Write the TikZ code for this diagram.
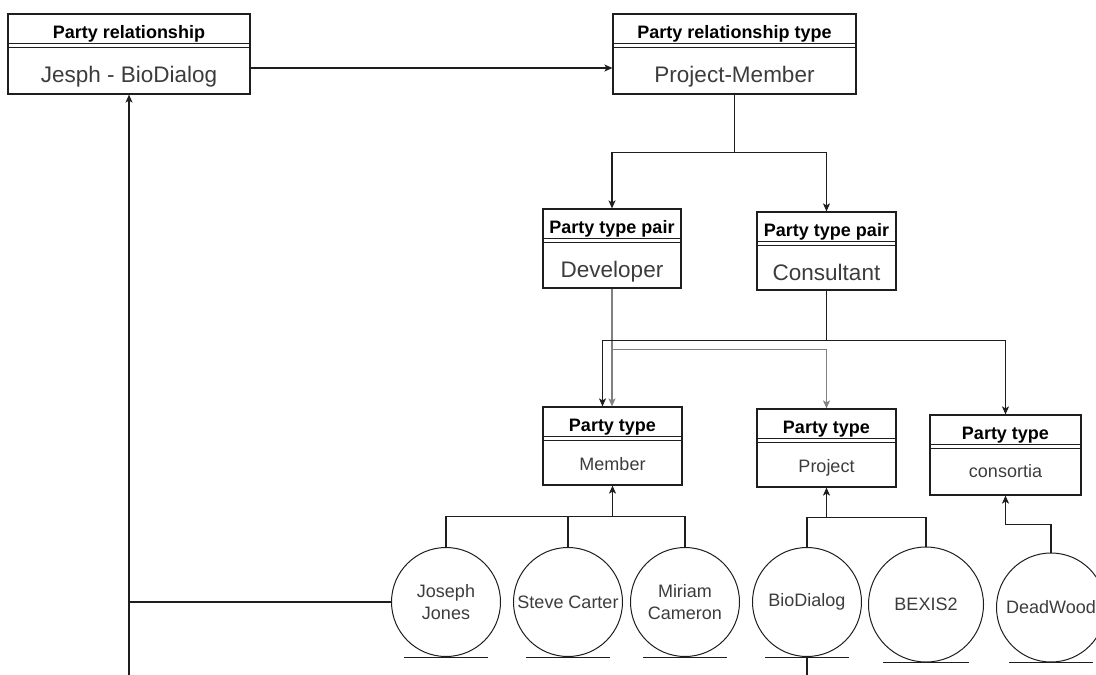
\documentclass[tikz,border=0pt]{standalone}
\usepackage{fontspec}
\setmainfont{Liberation Sans}
\usetikzlibrary{arrows.meta,calc}
\definecolor{ink}{RGB}{30,30,30}
\definecolor{muted}{RGB}{128,128,128}
\definecolor{label}{RGB}{60,60,60}

\tikzset{
  pbox/.style={draw=ink, line width=1.2pt, inner sep=0pt},
  head/.style={anchor=base, font=\bfseries\fontsize{18}{21}\selectfont},
  big/.style={anchor=base, text=label, font=\fontsize{22.5}{26}\selectfont},
  small/.style={anchor=base, text=label, font=\fontsize{18}{21}\selectfont},
  ent/.style={circle, draw=ink, line width=1pt, minimum size=109pt, inner sep=0pt,
    align=center, text=label, font=\fontsize{18}{21.7}\selectfont},
  line/.style={draw=ink, line width=1.2pt},
  link/.style={line, -{Stealth[length=8pt,width=7pt,inset=2pt]}},
  gline/.style={draw=muted, line width=1.2pt},
  glink/.style={gline, -{Stealth[length=8pt,width=7pt,inset=2pt]}}
}

\begin{document}
\begin{tikzpicture}[x=1pt,y=-1pt]
  \useasboundingbox (0,0) rectangle (1096,675);

  % Boxes
  \node[pbox, minimum width=242pt, minimum height=80pt] (rel) at (129,54) {};
  \node[pbox, minimum width=243pt, minimum height=80pt] (reltype) at (734.5,54) {};
  \node[pbox, minimum width=138pt, minimum height=79pt] (dev) at (612,248.5) {};
  \node[pbox, minimum width=139pt, minimum height=78pt] (cons) at (826.5,251) {};
  \node[pbox, minimum width=139pt, minimum height=78pt] (member) at (612.5,446) {};
  \node[pbox, minimum width=139pt, minimum height=78pt] (project) at (826.5,448) {};
  \node[pbox, minimum width=151pt, minimum height=80pt] (consort) at (1005.5,455) {};

  % Header separators
  \foreach \b in {rel,reltype,dev,cons,member,project,consort}
    \draw[ink, line width=1pt] ($(\b.north west)+(0,30)$) -- ($(\b.north east)+(0,30)$)
                               ($(\b.north west)+(0,34)$) -- ($(\b.north east)+(0,34)$);

  % Headers
  \node[head] (rel-h) at ($(rel.north)+(0,25.5)$) {Party relationship};
  \node[head] (reltype-h) at ($(reltype.north)+(0,25.5)$) {Party relationship type};
  \node[head] (dev-h) at ($(dev.north)+(0,25.5)$) {Party type pair};
  \node[head] (cons-h) at ($(cons.north)+(0,25.5)$) {Party type pair};
  \node[head] (member-h) at ($(member.north)+(0,25.5)$) {Party type};
  \node[head] (project-h) at ($(project.north)+(0,25.5)$) {Party type};
  \node[head] (consort-h) at ($(consort.north)+(0,25.5)$) {Party type};

  % Values
  \node[big] (rel-v) at ($(rel.north)+(0,69)$) {Jesph - BioDialog};
  \node[big] (reltype-v) at ($(reltype.north)+(0,69)$) {Project-Member};
  \node[big] (dev-v) at ($(dev.north)+(0,69)$) {Developer};
  \node[big] (cons-v) at ($(cons.north)+(0,69)$) {Consultant};
  \node[small] (member-v) at ($(member.north)+(0,64)$) {Member};
  \node[small] (project-v) at ($(project.north)+(0,64)$) {Project};
  \node[small] (consort-v) at ($(consort.north)+(0,63)$) {consortia};

  % Parties
  \node[ent] (joseph) at (446,602) {Joseph\\Jones};
  \node[ent] (steve) at (568,602) {Steve Carter};
  \node[ent] (miriam) at (685,602) {Miriam\\Cameron};
  \node[ent] (biodialog) at (807,602) {BioDialog};
  \node[ent, minimum size=115pt] (bexis) at (926,604.5) {BEXIS2};
  \node[ent] (deadwood) at (1051,607.5) {DeadWood};

  % Underlines
  \foreach \c in {joseph,steve,miriam,biodialog,deadwood}
    \draw[line, line width=1pt] ($(\c.south)+(-42,0)$) -- ($(\c.south)+(42,0)$);
  \draw[line, line width=1pt] ($(bexis.south)+(-43,0)$) -- ($(bexis.south)+(43,0)$);

  % Relationship to its type
  \draw[link] ($(rel.east)+(0,14)$) -- ($(reltype.west)+(0,14)$);
  \draw[line] (reltype.south) -- ++(0,58) coordinate (split-a);
  \draw[link] (split-a) -| (dev.north);
  \draw[link] (split-a) -| (cons.north);

  % Developer pair
  \draw[glink] (dev.south) -- (dev.south |- member.north);
  \path (dev.south) ++(0,61) coordinate (split-b);
  \draw[glink] (split-b) -| (project.north);

  % Consultant pair
  \draw[line] (cons.south) -- ++(0,50) coordinate (split-c);
  \draw[link] (split-c) -| ([xshift=-10pt]member.north);
  \draw[link] (split-c) -| (consort.north);

  % Parties to their types
  \path (member.south) ++(0,31) coordinate (join-m);
  \draw[link] (join-m) -- (member.south);
  \draw[line] (joseph.north) |- (join-m) -| (miriam.north);
  \draw[line] (steve.north) -- (steve.north |- join-m);
  \path (project.south) ++(0,30) coordinate (join-p);
  \draw[link] (join-p) -- (project.south);
  \draw[line] (biodialog.north) |- (join-p) -| (bexis.north);
  \path (consort.south) ++(0,29) coordinate (join-c);
  \draw[link] (join-c) -- (consort.south);
  \draw[line] (deadwood.north) |- (join-c);

  % Relationship ends
  \coordinate (foot-a) at (129,675);
  \draw[link] (foot-a) -- (rel.south);
  \draw[line] (joseph.west) -- (joseph.west -| rel.south);
  \coordinate (foot-b) at (807,675);
  \draw[line] (biodialog.south) -- (foot-b);
\end{tikzpicture}
\end{document}
